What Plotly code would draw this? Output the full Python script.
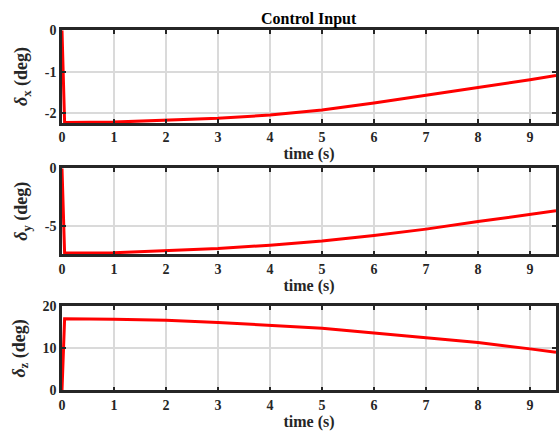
import plotly.graph_objects as go

time_s = [0, 0.05, 1, 2, 3, 4, 5, 6, 7, 8, 9, 9.5]
delta_x = [0, -2.22, -2.21, -2.17, -2.12, -2.04, -1.92, -1.75, -1.57, -1.38, -1.19, -1.09]
delta_y = [0, -7.32, -7.28, -7.12, -6.92, -6.64, -6.28, -5.8, -5.25, -4.6, -4.0, -3.67]
delta_z = [0, 17.05, 16.95, 16.7, 16.2, 15.55, 14.8, 13.7, 12.6, 11.4, 9.9, 9.1]

x_ticks = [0, 1, 2, 3, 4, 5, 6, 7, 8, 9]
y1_ticks = [0, -1, -2]
y2_ticks = [0, -5]
y3_ticks = [0, 10, 20]

FONT = "Liberation Serif"
W, H = 559, 440

fig = go.Figure()
series = [delta_x, delta_y, delta_z]
for i, s in enumerate(series):
    fig.add_trace(go.Scatter(x=time_s, y=s, mode="lines",
                             line=dict(color="#ff0000", width=3),
                             xaxis="x" if i == 0 else f"x{i+1}",
                             yaxis="y" if i == 0 else f"y{i+1}",
                             showlegend=False))

areas = [(24, 120), (167, 256), (310, 397)]
yranges = [[-2.23, 0], [-7.42, 0], [0, 20]]
yticks = [y1_ticks, y2_ticks, y3_ticks]
ylabels = ["<i>δ</i><sub>x</sub> (deg)", "<i>δ</i><sub>y</sub> (deg)", "<i>δ</i><sub>z</sub> (deg)"]

axis_common = dict(showline=True, linecolor="#262626", linewidth=2.5, mirror="ticks",
                   ticks="inside", ticklen=4, tickwidth=2, tickcolor="#262626",
                   showgrid=True, gridcolor="#dadada", gridwidth=1.5, zeroline=False,
                   tickfont=dict(family=FONT, size=14, color="#262626", weight="bold"))

layout = dict(width=W, height=H, paper_bgcolor="white", plot_bgcolor="white",
              margin=dict(l=62, r=1, t=0, b=0),
              font=dict(family=FONT, color="#262626"))
for i in range(3):
    top, bot = areas[i]
    dom = [1 - bot / H, 1 - top / H]
    xk = "xaxis" if i == 0 else f"xaxis{i+1}"
    yk = "yaxis" if i == 0 else f"yaxis{i+1}"
    layout[xk] = dict(axis_common, domain=[0, 1], range=[0, 9.5],
                      anchor="y" if i == 0 else f"y{i+1}",
                      tickvals=x_ticks, ticktext=[str(v) for v in x_ticks],
                      title=dict(text="<b>time (s)</b>", standoff=2,
                                 font=dict(family=FONT, size=16, color="#262626")))
    layout[yk] = dict(axis_common, domain=dom, range=yranges[i],
                      anchor="x" if i == 0 else f"x{i+1}",
                      tickvals=yticks[i], ticktext=[str(v) for v in yticks[i]],
                      title=dict(text=ylabels[i], standoff=13,
                                 font=dict(family=FONT, size=18, color="#262626", weight="bold")))
fig.update_layout(**layout)
fig.add_annotation(text="<b>Control Input</b>", x=0.5, xref="paper", y=1 - 12 / H, yref="paper",
                   showarrow=False, font=dict(family=FONT, size=16, color="#000000"),
                   xanchor="center", yanchor="middle")
fig.write_html("out.html", config={"displayModeBar": False},
               post_script="document.body.style.margin='0px';document.body.style.overflow='hidden';")
